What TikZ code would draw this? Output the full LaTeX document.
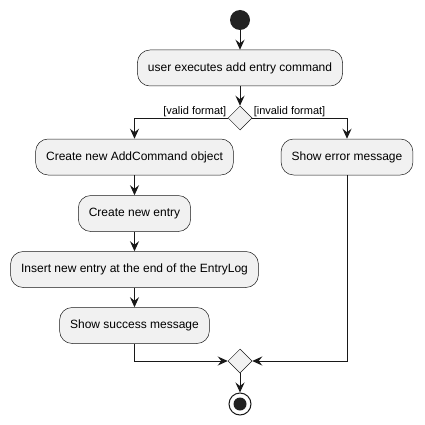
\documentclass[tikz,border=0pt]{standalone}
\usepackage{fontspec}
\setmainfont{Liberation Sans}
\usetikzlibrary{arrows.meta,shapes.geometric}
\definecolor{umlline}{HTML}{181818}
\definecolor{umlfill}{HTML}{F1F1F1}
\definecolor{umldot}{HTML}{222222}

\begin{document}
\begin{tikzpicture}[
    x=1pt, y=-1pt,
    action/.style={rectangle, rounded corners=12.5pt, draw=umlline, line width=0.5pt, fill=umlfill, minimum height=36pt, inner xsep=10.5pt, font=\fontsize{12}{14}\selectfont},
    choice/.style={diamond, draw=umlline, line width=0.5pt, fill=umlfill, minimum width=24pt, minimum height=24pt, inner sep=0pt, aspect=1},
    guard/.style={font=\fontsize{11}{13}\selectfont, inner sep=1pt},
    flow/.style={draw=umlline, line width=1pt, -{Stealth[length=10pt, width=9pt, inset=3.5pt]}},
    >=Stealth
]
    \useasboundingbox (0,0) rectangle (424,425);

    % Start
    \node[circle, fill=umldot, minimum size=20pt, inner sep=0pt] (start) at (240,20) {};
    \node[action] (exec) at (240,68) {user executes add entry command};
    \node[choice] (split) at (240,118) {};

    % Valid branch
    \node[action] (addcmd) at (134.5,157) {Create new AddCommand object};
    \node[action] (newentry) at (134.5,213.5) {Create new entry};
    \node[action] (insert) at (134.5,269.5) {Insert new entry at the end of the EntryLog};
    \node[action] (success) at (134.5,325.5) {Show success message};

    % Invalid branch
    \node[action] (error) at (347,157) {Show error message};

    % End
    \node[choice] (merge) at (240,361) {};
    \node[circle, draw=umlline, line width=1pt, fill=white, minimum size=22pt, inner sep=0pt] (stop) at (240,404) {};
    \node[circle, fill=umldot, minimum size=13pt, inner sep=0pt] (stopdot) at (stop) {};

    \draw[flow] (start) -- (exec);
    \draw[flow] (exec) -- (split);
    \draw[flow] (split.west) node[guard, anchor=south east] {[valid format]} -| (addcmd.north);
    \draw[flow] (split.east) node[guard, anchor=south west] {[invalid format]} -| (error.north);
    \draw[flow] (addcmd) -- (newentry);
    \draw[flow] (newentry) -- (insert);
    \draw[flow] (insert) -- (success);
    \draw[flow] (success.south) |- (merge.west);
    \draw[flow] (error.south) |- (merge.east);
    \draw[flow] (merge) -- (stop);
\end{tikzpicture}
\end{document}
